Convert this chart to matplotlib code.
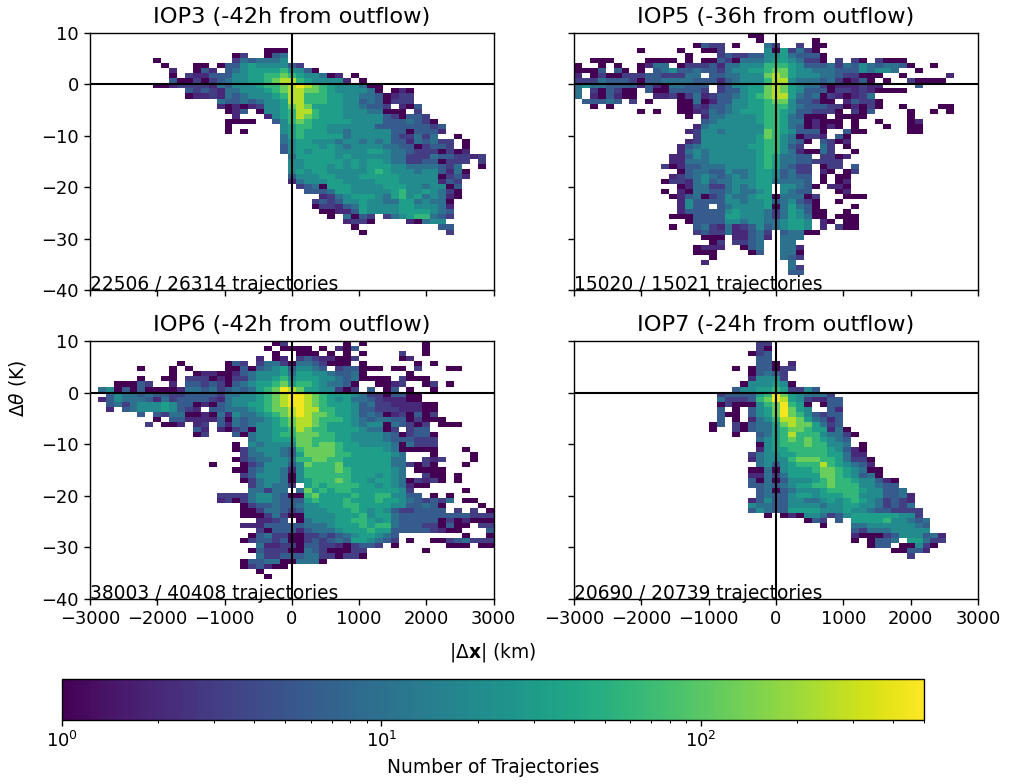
import matplotlib
matplotlib.use("Agg")
import matplotlib.pyplot as plt
from matplotlib.colors import LogNorm
import numpy as np

# 51 x 51 bins, rows run from the top of each panel, cols from the left
x_edges = np.linspace(-3000, 3000, 52)
y_edges = np.linspace(10, -40, 52)

# colour levels -> approximate number of trajectories
level_chars = "0123456789a"
level_counts = [1, 2, 3, 6, 10, 19, 32, 60, 120, 250, 450]

titles = ["IOP3 (-42h from outflow)", "IOP5 (-36h from outflow)",
          "IOP6 (-42h from outflow)", "IOP7 (-24h from outflow)"]
notes = ["22506 / 26314 trajectories", "15020 / 15021 trajectories",
         "38003 / 40408 trajectories", "20690 / 20739 trajectories"]

# (row, first col, levels), '.' is an empty bin, spaces only group the digits
iop3 = [
    (3, 22, "000"), (4, 18, "02..034"), (5, 8, "0"), (5, 18, "2434445"),
    (6, 9, "0...00.03356555532"), (7, 10, "1..031.345666675530"),
    (8, 10, "0.21133355667787655401.0"), (9, 10, "30020234556678997655551.0"),
    (10, 8, "001222214355567789a9876555400"), (11, 12, "3232144555678998876555540.010"),
    (12, 12, "01121434555679977766554430122"), (13, 16, "4334345569977766553430222"),
    (14, 16, "1010125568986666554332.103"), (15, 17, "013.0556799766655544000.2"),
    (16, 18, "1...156798766655555320332"), (17, 17, "0000..357876666655553334320"),
    (18, 17, "0......567766555555333333323"), (19, 17, "0.0....567666554555553303331"),
    (20, 24, "46766666455555322424..0"), (21, 24, "4566555455454533143422.0"),
    (22, 24, "3566656545555443302332.0"), (23, 24, "356566655556654432220201"),
    (24, 25, "4666665655555442224332212"), (25, 25, "55666665656654422330222.2"),
    (26, 25, "55666 56565 66655 44443 24..0"), (27, 25, "56566 55555 67655 54553 140"),
    (28, 25, "35556 65556 66665 55550 231"), (29, 25, "14555 66555 56665 55551 32"),
    (30, 26, "2340 66655 55666 55455 03"), (31, 27, "333 46655 55567 55654 20"),
    (32, 29, "1 24566 65467 56454 10"), (33, 28, "23 23556 55446 64544 0"),
    (34, 28, "02 21346 55556 65554 1"), (35, 29, "0 01136 55556 66654 3"),
    (36, 30, "0.403 2.245 67743 2"), (37, 32, "122 0.... 10455"),
    (38, 33, "0"), (38, 44, "33"), (39, 34, "0"), (39, 45, "2"),
]

iop5 = [
    (0, 22, "00"), (1, 23, "0"), (1, 30, "0"), (2, 15, "0322"), (2, 20, "0"), (2, 24, "42"),
    (2, 28, "2"), (2, 30, "00"), (3, 8, "0"), (3, 13, "0"), (3, 16, "002"), (3, 24, "50624 20"),
    (4, 14, "0"), (4, 18, "232233 5564 3330"), (5, 2, "000"), (5, 9, "0000"), (5, 14, "0"),
    (5, 16, "00320 44456 65422 0.2.2 0.200 0"), (6, 0, "0"), (6, 3, "0"), (6, 5, "0"),
    (6, 8, "0144.0 22231 44555 77765 33342 43543 4430 ..0"),
    (7, 0, "0003. 30.0. 34533 43324 55667 88655 44433 35455 4..0"),
    (8, 0, "1.020 02223 32224 4.334 45558 98655 54432 2000. .0... ..1"),
    (9, 0, "22243 33203 34444 33313 45557 99544 43420 130.0 ..200 00"),
    (10, 0, "45443 33313 10443 33.23 55668 98654 42011 1211. ...3"),
    (11, 0, "4.203 200.3 00333 32.23 35668 98653 33022 12100 00"),
    (12, 0, "4.103 100.. 11202 41233 45678 99643 40210 124"),
    (13, 0, ".3334 3.2.0 ...00 40133 55667 88533 200.1 3220"),
    (14, 2, "0.0"), (14, 13, "00 21334 55667 77543 33220 1020 ..0 ....00"),
    (15, 8, "0.0"), (15, 13, "00 12434 56667 76533 2220. 203 .... 0 .. 0.0"),
    (16, 14, "0.144 55556 77643 000.0 000 ..... 0"),
    (17, 16, "34555 55677 64401 000.0 ..0... 01"),
    (18, 15, "1 45555 55577 64301 010.0 ...0.. 00"),
    (19, 14, "12 55455 55587 65333 0..30 0..... 00"),
    (20, 15, "2 55555 55687 54022 1.30"), (21, 14, "12 55555 55677 5430. 3201"),
    (22, 13, "134 55555 56677 532.. 42.0"), (23, 13, "145 45555 55677 54100 42..0"),
    (24, 12, "1135 45555 55676 4433. 2201"), (25, 12, "1144 45555 55676 44332 222"),
    (26, 11, "20133 44455 55676 4322. 022.3"), (27, 13, "034 43354 45665 3422. 10.02"),
    (28, 12, "1234 54345 45665 3433. 0.00"), (29, 11, "02214 53445 55664 4443. 0.01"),
    (30, 13, "014 42245 4566. 55430 .110"), (31, 11, "0.104 43345 4456. 5433. ..01"),
    (32, 12, "0134 02354 45660 44402 ...00 0"), (33, 13, "153 33355 45563 45320 ..0"),
    (34, 13, "153 3.345 55560 46430 ....0"), (35, 13, "133 33356 55542 46530 0..0"),
    (36, 12, "0003 33366 55542 46540 0.000"), (37, 14, "03 33355 45544 5665. 10.00"),
    (38, 12, "0..3 42141 23534 5665. 1.200"), (39, 15, "2 32241 1342. 34400"),
    (40, 16, "000.1 1341. 444"), (41, 17, "02.2 234.. 44"), (42, 15, "0111 ..034 ..441"),
    (43, 15, "000 .... 03 .. 440"), (44, 17, "0"), (44, 26, "432"), (45, 16, "1"),
    (45, 27, "4"), (46, 27, "42"), (47, 27, "33"),
]

iop6 = [
    (0, 23, "02"), (0, 32, "0"), (0, 34, "0"), (0, 42, "0"), (1, 22, "0.000 0"), (1, 29, "0.103"),
    (1, 42, "0"), (2, 23, "0"), (2, 26, "000.0"), (2, 32, "0"), (2, 34, "0"), (2, 39, "2"),
    (2, 42, "0"), (3, 21, "1.01"), (3, 26, "23211 002"), (3, 39, "01"), (4, 11, "0"),
    (4, 17, "032.2 4420 44320 00.0 ......0.0"), (5, 6, "0"), (5, 10, "0.0"),
    (5, 17, "00303 4563 5543. 2330 00.00 .2 ... 00"),
    (6, 10, "0..01 10013 45556 46655 43340 .....0"), (7, 6, "0"), (7, 9, "00"),
    (7, 12, "22201 02245 56756 66554 34000 0.200 0"),
    (8, 3, "00032 ..1.3 32320 34566 78677 65443 0..00 12..0 2.0"),
    (9, 1, "45030 30000 14434 23434 678a9 86655 202.3 .03.0 ..0"),
    (10, 2, "35443 43322 33332 44556 789aa 98766 65422 03300"),
    (11, 1, "13544 43142 33332 14555 6789a a9876 56443 21110 0"),
    (12, 2, "34245 55653 30103 45566 789aa 98766 65342 21111 00"),
    (13, 2, "1.345 55653 21.33 44456 7889a 99776 65332 22111 00"),
    (14, 6, "3.324 40010 41544 56789 a9887 66534 30120 302"),
    (15, 8, "0.331 11130 43445 67899 87776 54344 33020 00"),
    (16, 7, "2.001 .12.3 14345 56789 98766 65455 04320 2.000"),
    (17, 13, "31.10 23055 66798 77666 65440 2.233"),
    (18, 13, "02... 30455 67788 87766 55554 30233 0"),
    (19, 20, "45566 68877 76655 55433 3222"), (20, 18, "0"),
    (20, 20, "54555 58878 87665 55540 4222"), (21, 18, "02455 54378 88876 66665 40000 0...0"),
    (22, 19, "24455 43688 88776 66665 4... 0.... 0"),
    (23, 18, "02344 55477 88776 66666 44..2 12...0"), (24, 15, "0"),
    (24, 19, "02355 53587 77866 66664 42020 ...0"), (25, 18, "00345 54157 77787 66666 54.00 00"),
    (26, 19, "23555 40577 77776 66565 4..20 0.0"), (27, 19, "02455 40567 77876 65665 40212 0.0"),
    (28, 20, "24544 2.676 77776 65654 100"), (29, 20, "44244 .4867 67766 66665 2...... 0"),
    (30, 16, "22224 55430 07866 66766 77553 3.0.0"), (31, 16, "12024 55433 36766 67666 76654 32324 .00"),
    (32, 19, "02334 33455 66677 66665 53343 0....0"), (33, 19, "00244 32355 56667 65653 22333 3.2.2 .0"),
    (34, 19, "00024 20055 55666 75664 33333 33332 22"), (35, 21, "1123. 04555 66776 56433 33302 01000"),
    (36, 19, "11133 33344 45666 76774 33322 0300. 22"), (37, 21, "20333 13444 56667 66333 33210 0...3"),
    (38, 20, "03422 00223 23456 6543. ....... 0..0"), (39, 19, "02332 30023 23436 65432 .0..0 02342 22"),
    (40, 21, "41122 03322 10233 2.0...... 000.00"), (41, 20, "03222 00432 00022 ....... 0"),
    (42, 21, "42233 34422 0220"), (43, 19, "03344 00444 0"), (44, 19, "023100"),
    (45, 21, "0"), (46, 22, "0"),
]

iop7 = [
    (0, 23, "22"), (1, 23, "20"), (2, 22, "023"), (3, 23, "33"), (4, 23, "330.1"), (5, 20, "0.033 022"),
    (6, 22, "03432"), (7, 22, "15552"), (8, 21, "05556 50"), (9, 20, "35566 76225 3"),
    (10, 18, "23333 67a86 54442"), (11, 18, "42223 78a96 52113 3"), (12, 18, "02000 578a7 60.03 3"),
    (13, 18, "3.0.3 568a8 65..3 1"), (14, 18, "300.3 568a8 75323 3"), (15, 18, "3.0.1 45799 86431 3"),
    (16, 17, "03.203 44689 88642 3"), (17, 17, "0..203 44678 87661 40"), (18, 20, "0..34 67977 75442 0"),
    (19, 23, "45 67878 76543"), (20, 23, "05 67778 77554 .0"), (21, 23, "15 66777 77653 10"),
    (22, 22, "245 56677 77664 11"), (23, 22, "145 55788 87764 220"), (24, 23, "45 35677 79765 431"),
    (25, 22, "004 05666 78876 5400"), (26, 22, "114 24666 68876 5340"), (27, 22, "304 03555 67877 65531 0"),
    (28, 22, "334 34566 77877 75543 3"), (29, 23, "34 03455 56777 76553 34"),
    (30, 23, "34 33566 56667 75553 341"), (31, 22, "135 33554 45656 76542 321"),
    (32, 22, "544 33555 54556 65542 324"), (33, 22, "354 33666 65556 55433 2222"),
    (34, 24, "0.010 55423 56666 66552"), (35, 29, "032.3 .6666 75543 4"), (36, 31, "0"),
    (36, 35, "44555 55543"), (37, 35, "32444 55555"), (38, 35, "10002 35553 41"),
    (39, 35, "0.033 4.664 22"), (40, 37, "033.0 0520"), (41, 40, "00331"), (42, 42, "2"),
]


def to_grid(rows):
    grid = np.full((51, 51), np.nan)
    for row, first, levels in rows:
        levels = levels.replace(" ", "")
        for i, ch in enumerate(levels):
            if ch != "." and first + i < 51:
                grid[row, first + i] = level_counts[level_chars.index(ch)]
    return np.ma.masked_invalid(grid)


plt.rcParams["font.size"] = 13.4
plt.rcParams["xtick.labelsize"] = 12.9
plt.rcParams["ytick.labelsize"] = 12.9
plt.rcParams["axes.linewidth"] = 1.0
plt.rcParams["xtick.major.size"] = 4.4
plt.rcParams["ytick.major.size"] = 4.4
plt.rcParams["xtick.major.width"] = 1.0
plt.rcParams["ytick.major.width"] = 1.0
plt.rcParams["xtick.minor.size"] = 2.5
plt.rcParams["xtick.minor.width"] = 0.75

W, H = 1015, 784
fig = plt.figure(figsize=(W / 100, H / 100), dpi=100)


def px_axes(x0, x1, y0, y1):
    return fig.add_axes([x0 / W, 1 - y1 / H, (x1 - x0) / W, (y1 - y0) / H])


boxes = [(90, 493.5, 33, 290), (574, 978, 33, 290), (90, 493.5, 341, 599), (574, 978, 341, 599)]
norm = LogNorm(vmin=1, vmax=500)

for n, rows in enumerate([iop3, iop5, iop6, iop7]):
    ax = px_axes(*boxes[n])
    mesh = ax.pcolormesh(x_edges, y_edges, to_grid(rows), cmap="viridis", norm=norm)
    ax.axhline(0, color="k", lw=1.5)
    ax.axvline(0, color="k", lw=1.5)
    ax.set_xlim(-3000, 3000)
    ax.set_ylim(-40, 10)
    ax.set_xticks(np.arange(-3000, 3001, 1000))
    ax.set_yticks(np.arange(-40, 11, 10))
    if n < 2:
        ax.set_xticklabels([])
    if n % 2 == 1:
        ax.set_yticklabels([])
    ax.set_title(titles[n], fontsize=16.2, pad=7.5)
    ax.text(-3000, -40, notes[n], fontsize=13.4, va="baseline", ha="left")

fig.text(17 / W, 1 - 388 / H, r"$\Delta\theta$ (K)", rotation=90, ha="center", va="center")
fig.text(493 / W, 1 - 652 / H, r"$|\Delta\mathbf{x}|$ (km)", ha="center", va="center")

cax = px_axes(62, 924, 679, 720)
cbar = fig.colorbar(mesh, cax=cax, orientation="horizontal")
cbar.set_label("Number of Trajectories", labelpad=5)

fig.savefig("out.png", dpi=100)
